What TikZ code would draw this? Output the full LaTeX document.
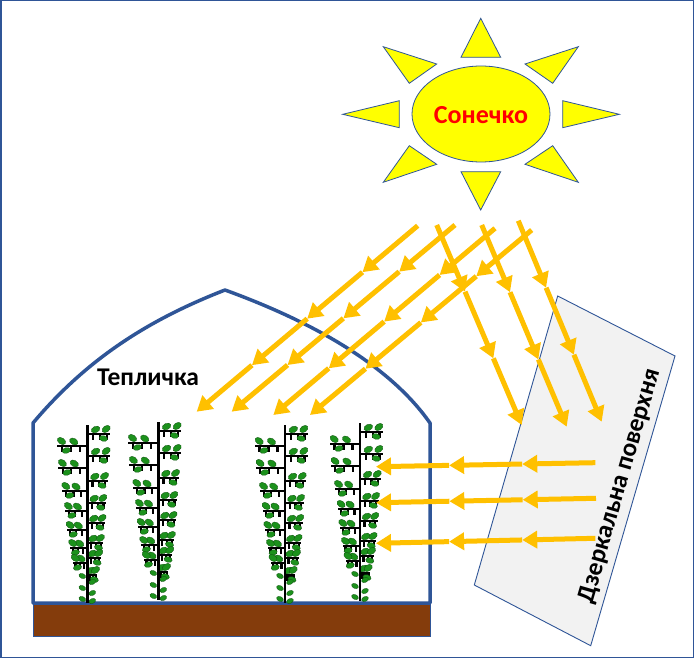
\documentclass[tikz,border=0pt]{standalone}
\usepackage{fontspec}
\setmainfont{Carlito}
\usetikzlibrary{arrows.meta,calc,shapes.geometric}
\definecolor{gblue}{HTML}{2F5597}
\definecolor{rayc}{HTML}{FFC000}
\definecolor{soil}{HTML}{843C0C}
\definecolor{mirrorc}{HTML}{F2F2F2}
\definecolor{sunc}{HTML}{FFFF00}
\definecolor{leafc}{RGB}{28,145,28}
\definecolor{leafd}{RGB}{15,80,15}
\newcommand\myraychain[3]{%
  \foreach \k [evaluate=\k as \ka using (\k-1)/#3, evaluate=\k as \kb using \k/#3] in {1,...,#3}
    \draw[ray] ($(#1)!\ka!(#2)$) -- ($(#1)!\kb!(#2)$);%
}
\tikzset{
  ray/.style={draw=rayc, line width=5pt, -{Triangle[width=17pt,length=15pt]}},
  leaf/.style={fill=leafc, draw=leafd, line width=0.3pt},
  sunpart/.style={fill=sunc, draw=gblue, line width=0.8pt, line join=miter},
  plant/.pic={
    \foreach \y/\w in {3/23,25/23,50/21,72/19,92/18,112/16,127/14,144/10}{
      \draw[black,line width=1.5pt] (0,\y+6) -- (\w,\y+6);
      \foreach \f in {0.25,0.55,0.85}
        \fill[black] ({\f*\w-1.1},\y+6) rectangle ({\f*\w+1.1},\y+11.5);
      \path[leaf] ({0.36*\w},\y+1.5) ellipse [x radius=4.6, y radius=3.1, rotate=25];
      \path[leaf] ({0.82*\w},\y+1) ellipse [x radius=4.6, y radius=3.1, rotate=35];
      \path[leaf] ({0.7*\w},\y+10.5) ellipse [x radius=4.2, y radius=2.8, rotate=-15];
    }
    \foreach \y/\w in {15/30,37/29,60/25,80/22,99/20,117/17,132/14}{
      \draw[black,line width=1.5pt] (0,\y+6) -- (-\w,\y+6);
      \foreach \f in {0.25,0.55,0.85}
        \fill[black] ({-\f*\w-1.1},\y+6) rectangle ({-\f*\w+1.1},\y+11.5);
      \path[leaf] ({-0.45*\w},\y+1.5) ellipse [x radius=4.6, y radius=3.1, rotate=150];
      \path[leaf] ({-0.86*\w},\y+1) ellipse [x radius=4.6, y radius=3.1, rotate=145];
      \path[leaf] ({-0.7*\w},\y+10.5) ellipse [x radius=4.2, y radius=2.8, rotate=195];
    }
    \foreach \y/\s in {151/-1,157/1,163/-1,168/1,174/-1,176/1}{
      \path[leaf] ({\s*5},\y) ellipse [x radius=3.6, y radius=2.4, rotate={90-\s*65}];
    }
    \draw[black,line width=2.6pt] (0,0) -- (0,178);
  }
}
\begin{document}
\begin{tikzpicture}[x=1pt,y=-1pt]
\useasboundingbox (0,0) rectangle (694,658);
\fill[white] (0,0) rectangle (694,658);
\draw[gblue, line width=1.5pt] (0.75,0.75) rectangle (693.25,657.25);

% mirror
\draw[fill=mirrorc, draw=gblue, line width=0.9pt]
  (557.7,296) coordinate (m1) -- (675,356) coordinate (m2) -- (590.7,645.7) coordinate (m3) -- (474.3,585) coordinate (m4) -- cycle;

% soil
\draw[fill=soil, draw=gblue, line width=0.6pt] (33,603) rectangle (430,636);

% greenhouse
\draw[gblue, line width=3.5pt, line join=round]
  (33,603) -- (33,423) .. controls (87,359) and (148,320) .. (225,290)
  .. controls (295.5,315.7) and (384.1,357.5) .. (430,423) -- (430,603) -- cycle;

% plants
\pic at (87.3,425) {plant};
\pic at (158.3,422) {plant};
\pic at (285,425) {plant};
\pic at (360,423) {plant};

% sun
\path[sunpart] (480.7,18.3) -- (500.7,57.3) -- (461,57.3) -- cycle;
\path[sunpart] (480.7,210) -- (500.7,171.7) -- (461,171.7) -- cycle;
\path[sunpart] (619.3,114.3) -- (562.7,127.7) -- (562.7,100.7) -- cycle;
\path[sunpart] (342.7,114.3) -- (399.3,127.7) -- (399.3,100.7) -- cycle;
\path[sunpart] (578.3,46.7) -- (525,64) -- (552.7,83.3) -- cycle;
\path[sunpart] (383.3,46.7) -- (436.7,64) -- (409.3,83.3) -- cycle;
\path[sunpart] (578.3,182.3) -- (525,164.3) -- (552.7,145.7) -- cycle;
\path[sunpart] (383.3,182.3) -- (436.7,164.3) -- (409.3,145.7) -- cycle;
\node[sunpart, ellipse, minimum width=138pt, minimum height=96pt, inner sep=0pt] (sun) at (481,114) {};
\node[text=red, font=\fontsize{26}{30}\selectfont\bfseries] (suntxt) at (481,115) {Сонечко};

% ray coordinates
\coordinate (As) at (417.7,225.7); \coordinate (Ae) at (196.7,411.7);
\coordinate (Bs) at (455,225);     \coordinate (Be) at (231.7,411.7);
\coordinate (Cs) at (495,228.3);   \coordinate (Ce) at (273.3,415);
\coordinate (Ds) at (531.7,230);   \coordinate (De) at (310,415);
\coordinate (Es) at (436.7,225);   \coordinate (Ee) at (521.7,425);
\coordinate (Fs) at (481.7,225);   \coordinate (Fe) at (566.7,426.7);
\coordinate (Gs) at (518.3,220.7); \coordinate (Ge) at (601.7,421.7);
\coordinate (H1s) at (595.3,462.7); \coordinate (H1e) at (376,466.7);
\coordinate (H2s) at (596,498.3);   \coordinate (H2e) at (376,502.7);
\coordinate (H3s) at (595.3,538.3); \coordinate (H3e) at (376,543.3);

\myraychain{As}{Ae}{4}
\myraychain{Bs}{Be}{4}
\myraychain{Cs}{Ce}{4}
\myraychain{Ds}{De}{4}
\myraychain{Es}{Ee}{3}
\myraychain{Fs}{Fe}{3}
\myraychain{Gs}{Ge}{3}
\myraychain{H1s}{H1e}{3}
\myraychain{H2s}{H2e}{3}
\myraychain{H3s}{H3e}{3}

% labels
\node[font=\fontsize{25.5}{30}\selectfont\bfseries] (gh) at (148,377) {Тепличка};
\node[font=\fontsize{25.5}{30}\selectfont\bfseries, rotate=73.8] (mirtxt) at (620,486) {Дзеркальна поверхня};
\end{tikzpicture}
\end{document}
